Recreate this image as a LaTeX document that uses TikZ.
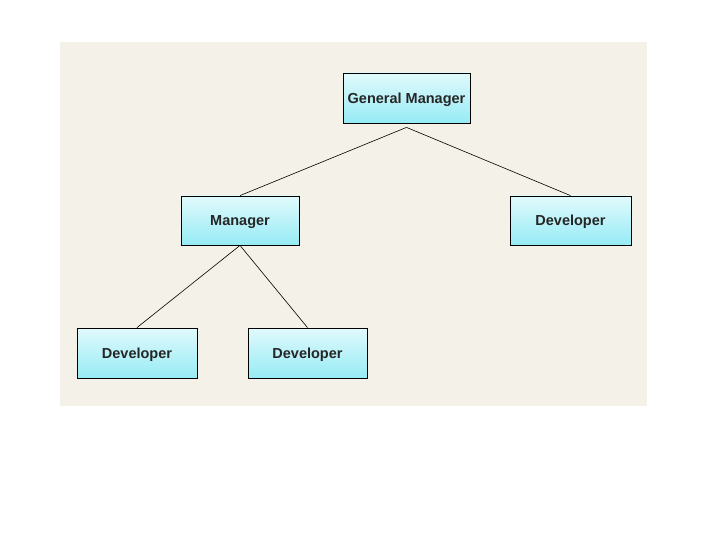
\documentclass[tikz,border=0pt]{standalone}
\usepackage{fontspec}
\setmainfont{Liberation Sans}
\definecolor{bgbeige}{RGB}{243,241,232}
\definecolor{boxtop}{RGB}{225,250,252}
\definecolor{boxbot}{RGB}{150,235,245}
\begin{document}
\begin{tikzpicture}[x=1pt,y=-1pt,
  rolebox/.style={draw=black, line width=0.8pt, top color=boxtop, bottom color=boxbot,
    minimum height=50pt, inner sep=0pt, text height=10.5pt, text depth=0pt,
    font=\bfseries\fontsize{14.5}{16}\selectfont, text=black!85},
  link/.style={draw=black, line width=0.6pt}]
\useasboundingbox (0,0) rectangle (720,540);
\fill[white] (0,0) rectangle (720,540);
\fill[bgbeige] (60,42) rectangle (647,406);
\node[rolebox, minimum width=127pt] (gm) at (406.5,98) {General Manager};
\node[rolebox, minimum width=118pt, minimum height=49pt] (mgr) at (240,220.5) {Manager};
\node[rolebox, minimum width=121pt, minimum height=49pt] (devr) at (570.5,220.5) {Developer};
\node[rolebox, minimum width=120pt] (devl) at (137,353) {Developer};
\node[rolebox, minimum width=119pt] (devm) at (307.5,353) {Developer};
\coordinate (gmtip) at ([yshift=-4pt]gm.south);
\draw[link] (gmtip) -- (mgr.north);
\draw[link] (gmtip) -- (devr.north);
\draw[link] (mgr.south) -- (devl.north);
\draw[link] (mgr.south) -- (devm.north);
\end{tikzpicture}
\end{document}
